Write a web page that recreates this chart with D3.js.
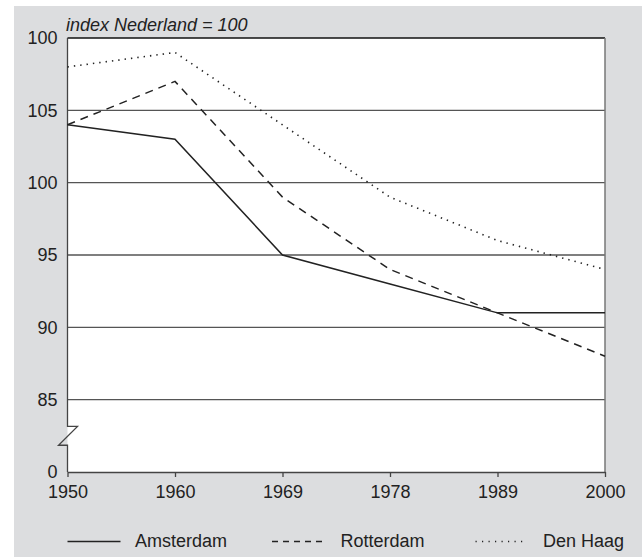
<!DOCTYPE html>
<html>
<head>
<meta charset="utf-8">
<script src="https://cdn.jsdelivr.net/npm/d3@7"></script>
<style>
  body { margin: 0; background: #fff; }
  text { font-family: "Liberation Sans", Arial, sans-serif; fill: #222; }
</style>
</head>
<body>
<div id="chart"></div>
<script>
// chart data
var years = ["1950", "1960", "1969", "1978", "1989", "2000"];
var amsterdam = [104, 103, 95, 93, 91, 91];
var rotterdam = [104, 107, 99, 94, 91, 88];
var denHaag = [108, 109, 104, 99, 96, 94];
var yTicks = [80, 85, 90, 95, 100, 105, 110];
var yTickLabels = ["0", "85", "90", "95", "100", "105", "100"];

var series = [
    { name: "Amsterdam", values: amsterdam, dash: null },
    { name: "Rotterdam", values: rotterdam, dash: "8,6" },
    { name: "Den Haag", values: denHaag, dash: "1.4,5" }
];

var W = 642, H = 557;
var margin = { left: 67.5, right: 37, top: 38, bottom: 85 };
var width = W - margin.left - margin.right;
var height = H - margin.top - margin.bottom;

var svg = d3.select("#chart").append("svg")
    .attr("width", W)
    .attr("height", H);

// grey panel
svg.append("rect")
    .attr("x", 14).attr("y", 6)
    .attr("width", W - 14).attr("height", H - 6)
    .attr("fill", "#dcdddf");

var g = svg.append("g")
    .attr("transform", "translate(" + margin.left + "," + margin.top + ")");

var x = d3.scalePoint().domain(years).range([0, width]);
var y = d3.scaleLinear().domain([80, 110]).range([height, 0]);

g.append("rect")
    .attr("width", width).attr("height", height)
    .attr("fill", "#fff");

// gridlines
g.selectAll(".grid")
    .data(yTicks.filter(function(d){ return d > 80 && d < 110; }))
    .enter().append("line")
    .attr("x1", 0).attr("x2", width)
    .attr("y1", function(d){ return y(d); })
    .attr("y2", function(d){ return y(d); })
    .attr("stroke", "#555")
    .attr("stroke-width", 1.3);

// top + right border
g.append("line")
    .attr("x1", 0).attr("x2", width)
    .attr("y1", y(110)).attr("y2", y(110))
    .attr("stroke", "#111").attr("stroke-width", 1.5);
g.append("line")
    .attr("x1", width).attr("x2", width)
    .attr("y1", y(110)).attr("y2", y(80))
    .attr("stroke", "#777").attr("stroke-width", 1.5);

// y axis (labels only, line drawn with break)
var yAxis = g.append("g")
    .call(d3.axisLeft(y)
        .tickValues(yTicks)
        .tickSize(0)
        .tickPadding(10)
        .tickFormat(function(d, i){ return yTickLabels[i]; }));
yAxis.select(".domain").remove();
yAxis.selectAll("text")
    .attr("font-size", "18px")
    .style("font-family", "Liberation Sans, Arial, sans-serif")
    .attr("fill", "#222");

var bTop = y(83.15), bBot = y(81.85);
g.append("path")
    .attr("d", "M0," + y(110) + "V" + bTop + "H10L-9," + bBot + "H0V" + y(80))
    .attr("fill", "none")
    .attr("stroke", "#444")
    .attr("stroke-width", 1.3);

// x axis
var xAxis = g.append("g")
    .attr("transform", "translate(0," + height + ")")
    .call(d3.axisBottom(x).tickSize(5).tickSizeOuter(0).tickPadding(8));
xAxis.select(".domain").attr("stroke", "#444").attr("stroke-width", 1.3);
xAxis.selectAll(".tick line").attr("stroke", "#444").attr("stroke-width", 1.3);
xAxis.selectAll("text")
    .attr("font-size", "18px")
    .style("font-family", "Liberation Sans, Arial, sans-serif")
    .attr("fill", "#222");

// title
g.append("text")
    .attr("x", -1.5)
    .attr("y", -7)
    .attr("font-size", "18px")
    .attr("font-style", "italic")
    .text("index Nederland = 100");

// lines
var line = d3.line()
    .x(function(d, i){ return x(years[i]); })
    .y(function(d){ return y(d); });

g.selectAll(".series")
    .data(series)
    .enter().append("path")
    .attr("d", function(d){ return line(d.values); })
    .attr("fill", "none")
    .attr("stroke", "#222")
    .attr("stroke-width", function(d){ return d.dash === "1.4,5" ? 1.6 : 1.5; })
    .attr("stroke-dasharray", function(d){ return d.dash; });

// legend
var legendItems = [
    { name: "Amsterdam", dash: null, x1: 0, x2: 53, tx: 67.5 },
    { name: "Rotterdam", dash: "6,5", x1: 204.5, x2: 258, tx: 273 },
    { name: "Den Haag", dash: "1.2,5.3", x1: 408, x2: 458, tx: 475.5 }
];
var lg = g.append("g").attr("transform", "translate(0," + (H - margin.top - 15.5) + ")");
var li = lg.selectAll(".leg").data(legendItems).enter().append("g");
li.append("line")
    .attr("x1", function(d){ return d.x1; })
    .attr("x2", function(d){ return d.x2; })
    .attr("stroke", "#222")
    .attr("stroke-width", 1.3)
    .attr("stroke-dasharray", function(d){ return d.dash; });
li.append("text")
    .attr("x", function(d){ return d.tx; })
    .attr("y", 5)
    .attr("font-size", "18px")
    .text(function(d){ return d.name; });
</script>
</body>
</html>
